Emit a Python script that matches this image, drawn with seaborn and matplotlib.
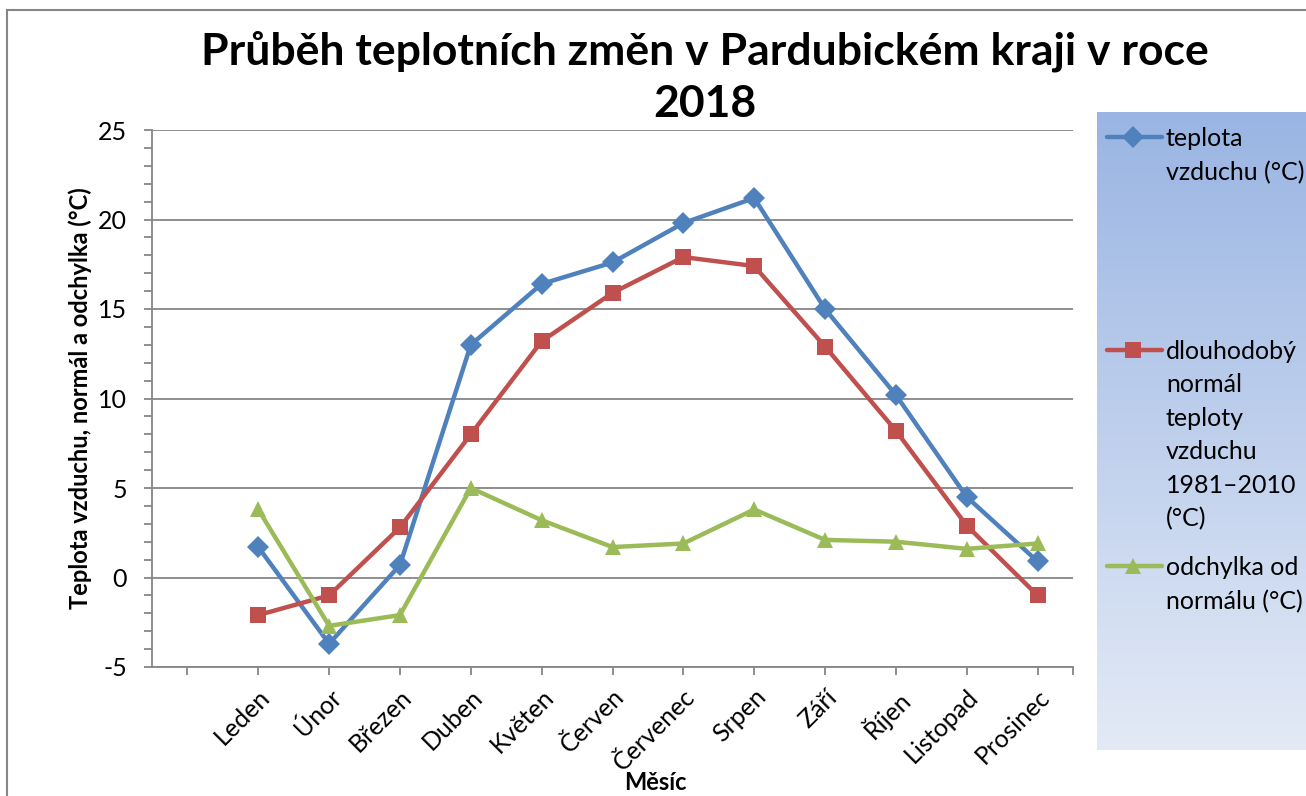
import numpy as np
import pandas as pd
import seaborn as sns
from matplotlib import pyplot as plt
from matplotlib.lines import Line2D
from matplotlib.patches import Rectangle

months = ["Leden", "Únor", "Březen", "Duben", "Květen", "Červen",
          "Červenec", "Srpen", "Září", "Říjen", "Listopad", "Prosinec"]
teplota = [1.7, -3.7, 0.7, 13.0, 16.4, 17.6, 19.8, 21.2, 15.0, 10.2, 4.5, 0.9]
normal = [-2.1, -1.0, 2.8, 8.0, 13.2, 15.9, 17.9, 17.4, 12.9, 8.2, 2.9, -1.0]
odchylka = [3.8, -2.7, -2.1, 5.0, 3.2, 1.7, 1.9, 3.8, 2.1, 2.0, 1.6, 1.9]

labels = ["teplota\nvzduchu (°C)",
          "dlouhodobý\nnormál\nteploty\nvzduchu\n1981–2010\n(°C)",
          "odchylka od\nnormálu (°C)"]
colors = ["#4F81BD", "#C0504D", "#9BBB59"]
markers = ["D", "s", "^"]

sns.set_style("white")
plt.rcParams["font.family"] = ["Lato", "DejaVu Sans"]
plt.rcParams["text.color"] = "black"
plt.rcParams["xtick.color"] = "black"
plt.rcParams["ytick.color"] = "black"
plt.rcParams["axes.labelcolor"] = "black"

df = pd.DataFrame({"pos": np.arange(1, 13), "teplota": teplota,
                   "normal": normal, "odchylka": odchylka})
long = df.melt(id_vars="pos", var_name="series", value_name="value")

fig = plt.figure(figsize=(13.06, 7.96), dpi=100)
W, H = 1306, 796
fig.patches.append(Rectangle((7 / W, -0.1), 1.2, 1 - 10 / H + 0.1,
                             transform=fig.transFigure, fill=False,
                             edgecolor="#868686", lw=1.5))

ax = fig.add_axes([152 / W, (H - 667) / H, (1073 - 152) / W, (667 - 130) / H])
sns.lineplot(data=long, x="pos", y="value", hue="series", style="series",
             markers=markers, dashes=False, palette=colors, lw=3.2,
             markersize=11, markeredgewidth=0, legend=False, ax=ax)

ax.set_xlim(-0.5, 12.5)
ax.set_ylim(-5, 25)
ax.set_yticks(range(-5, 26, 5))
ax.set_yticks(range(-5, 26), minor=True)
ax.set_yticklabels([str(v) for v in range(-5, 26, 5)])
ax.set_xticks(list(range(0, 13)) + [12.5])
ax.set_xticklabels([""] + months + [""], rotation=45, ha="right",
                   rotation_mode="anchor", fontsize=18)
ax.tick_params(axis="y", labelsize=18, pad=12)
ax.tick_params(axis="both", which="both", direction="out", length=6,
               color="#868686", width=1.3, left=True, bottom=True)
ax.tick_params(axis="x", pad=7)
ax.grid(axis="y", color="#868686", lw=1.3)
ax.set_axisbelow(True)
for s in ["top", "right"]:
    ax.spines[s].set_visible(False)
for s in ["left", "bottom"]:
    ax.spines[s].set_color("#868686")
    ax.spines[s].set_linewidth(1.3)

ax.set_xlabel("")
ax.set_ylabel("Teplota vzduchu, normál a odchylka (°C)", fontsize=17,
              fontweight="bold", labelpad=4)
fig.text(655 / W, 1 - 782 / H, "Měsíc", ha="center", va="center",
         fontsize=17, fontweight="bold")
fig.text(705 / W, 1 - 77 / H, "Průběh teplotních změn v Pardubickém kraji v roce\n2018",
         ha="center", va="center", fontsize=32, fontweight="bold",
         linespacing=1.35)

# legend panel with gradient
lax = fig.add_axes([1097 / W, (H - 750) / H, (W - 1097) / W, (750 - 112) / H])
grad = np.linspace(0, 1, 256).reshape(-1, 1)
c_top = np.array([0x9A, 0xB5, 0xE3]) / 255
c_bot = np.array([0xE3, 0xEA, 0xF6]) / 255
img = c_top + grad[:, :, None] * (c_bot - c_top)
lax.imshow(img, aspect="auto", extent=[0, W - 1097, 750, 112], origin="upper")
lax.set_xlim(0, W - 1097)
lax.set_ylim(750, 112)
lax.axis("off")

leg_y = [137, 350, 566]
for lab, col, mk, y in zip(labels, colors, markers, leg_y):
    lax.add_line(Line2D([1107 - 1097, 1162 - 1097], [y, y], color=col,
                        lw=3.2, solid_capstyle="round"))
    lax.add_line(Line2D([1133 - 1097], [y], color=col, marker=mk,
                        markersize=11, markeredgewidth=0))
    lax.text(1166 - 1097, y - 10, lab, fontsize=18, va="top", ha="left",
             linespacing=1.55)

fig.savefig("out.png", dpi=100)
